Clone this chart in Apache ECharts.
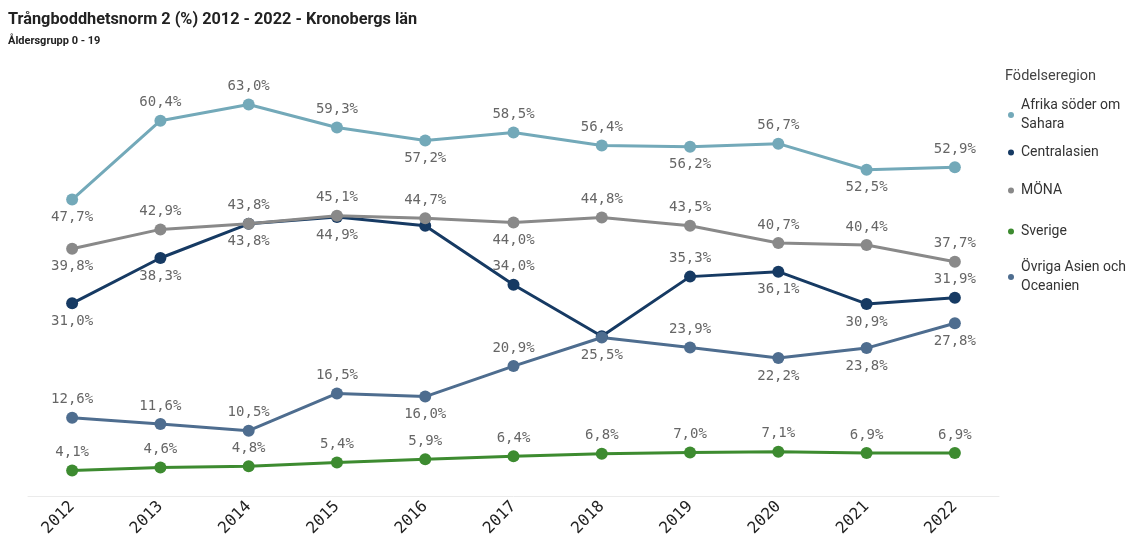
<!DOCTYPE html>
<html>
<head>
<meta charset="utf-8">
<script src="https://cdn.jsdelivr.net/npm/echarts@6/dist/echarts.min.js"></script>
<style>html,body{margin:0;padding:0;background:#fff}#c{width:1140px;height:539px}</style>
</head>
<body>
<div id="c"></div>
<script>
const years = ['2012','2013','2014','2015','2016','2017','2018','2019','2020','2021','2022'];
const seriesNames = ['Afrika söder om Sahara','Centralasien','MÖNA','Sverige','Övriga Asien och Oceanien'];
const afrika = [47.7, 60.4, 63.0, 59.3, 57.2, 58.5, 56.4, 56.2, 56.7, 52.5, 52.9];
const centralasien = [31.0, 38.3, 43.8, 44.9, 43.5, 34.0, 25.7, 35.3, 36.1, 30.9, 31.9];
const mona = [39.8, 42.9, 43.8, 45.1, 44.7, 44.0, 44.8, 43.5, 40.7, 40.4, 37.7];
const sverige = [4.1, 4.6, 4.8, 5.4, 5.9, 6.4, 6.8, 7.0, 7.1, 6.9, 6.9];
const ovriga = [12.6, 11.6, 10.5, 16.5, 16.0, 20.9, 25.5, 23.9, 22.2, 23.8, 27.8];

const colors = ['#73a9b9','#163a63','#898989','#3d8b30','#4e6d8f'];
const allData = [afrika, centralasien, mona, sverige, ovriga];
// label placement config (indices with label below / hidden)
const belowIdx = [[0,4,7,9],[0,1,2,3,8,9],[0,5],[],[4,6,8,9,10]];
const hiddenIdx = [[],[4,6],[],[],[]];
const legendNames = ['Afrika söder om\nSahara','Centralasien','MÖNA','Sverige','Övriga Asien och\nOceanien'];
const legendTops = [91,138,176,217,253];

const fmt = v => v.toFixed(1).replace('.', ',') + '%';
const series = allData.map((arr, s) => ({
  name: seriesNames[s],
  type: 'line',
  data: arr.map((v, i) => ({
    value: v,
    label: {
      show: hiddenIdx[s].indexOf(i) < 0,
      position: belowIdx[s].indexOf(i) >= 0 ? 'bottom' : 'top'
    }
  })),
  color: colors[s],
  symbol: 'circle',
  symbolSize: 12,
  lineStyle: {width: 3},
  z: s === 2 ? 3 : 2,
  label: {
    show: true,
    distance: 5,
    fontFamily: 'DejaVu Sans Mono',
    fontSize: 14,
    color: '#666666',
    formatter: p => fmt(p.value)
  }
}));

const legends = seriesNames.map((n, s) => ({
  data: [n],
  orient: 'vertical',
  left: 1003,
  top: legendTops[s],
  itemWidth: 10,
  itemHeight: 6,
  icon: 'circle',
  textStyle: {fontFamily: 'Roboto', fontSize: 14, color: '#333', lineHeight: 19},
  formatter: name => legendNames[seriesNames.indexOf(name)]
}));

const chart = echarts.init(document.getElementById('c'), null, {renderer: 'canvas'});
chart.setOption({
  animation: false,
  title: [
    {text: 'Trångboddhetsnorm 2 (%) 2012 - 2022 - Kronobergs län', left: 3, top: 7,
     textStyle: {fontFamily: 'Roboto', fontWeight: 'bold', fontSize: 16.3, color: '#222'}},
    {text: 'Åldersgrupp 0 - 19', left: 3, top: 31,
     textStyle: {fontFamily: 'Roboto', fontWeight: 'bold', fontSize: 11, color: '#222'}},
    {text: 'Födelseregion', left: 1000, top: 64,
     textStyle: {fontFamily: 'Roboto', fontWeight: 'normal', fontSize: 14.5, color: '#444'}}
  ],
  legend: legends,
  grid: {left: 28, right: 141, top: 61, bottom: 39},
  xAxis: {
    type: 'category',
    data: years,
    boundaryGap: true,
    axisLine: {lineStyle: {color: '#ebebeb'}},
    axisTick: {show: false},
    axisLabel: {rotate: 45, margin: 8, fontFamily: 'DejaVu Sans Mono', fontSize: 16, color: '#222'}
  },
  yAxis: {type: 'value', min: 0, max: 70, show: false},
  series: series
});
</script>
</body>
</html>
